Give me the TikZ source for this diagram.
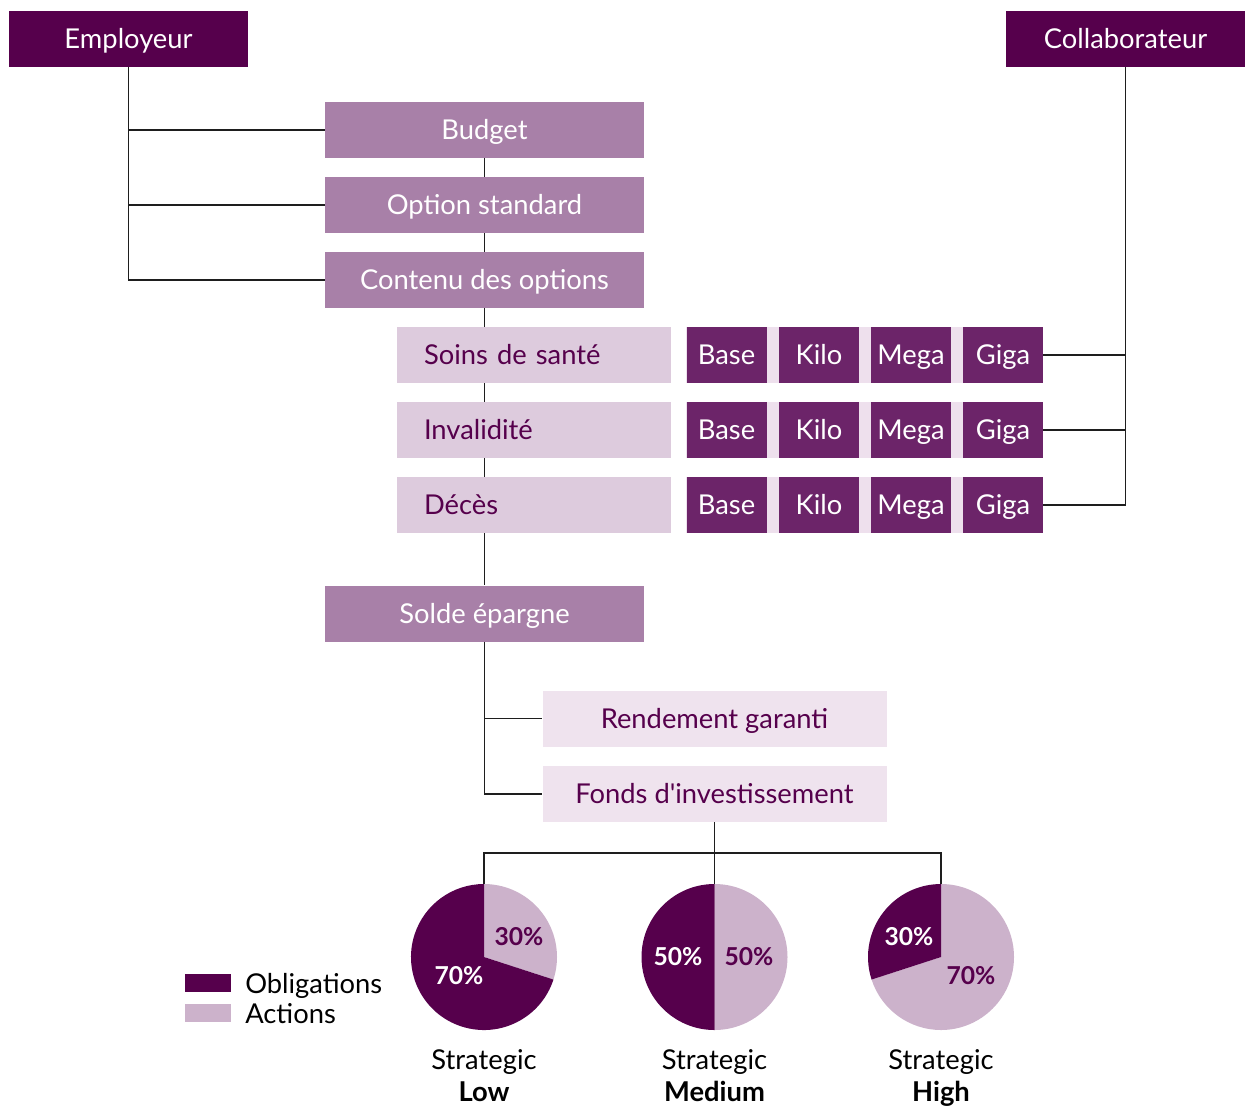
\documentclass[tikz,border=0pt]{standalone}
\usepackage{fontspec}
\setmainfont{Lato}
\usetikzlibrary{backgrounds}
\definecolor{plum}{RGB}{86,0,76}
\definecolor{grape}{RGB}{108,36,105}
\definecolor{mauve}{RGB}{168,128,168}
\definecolor{lilac}{RGB}{221,203,221}
\definecolor{blush}{RGB}{239,227,238}
\definecolor{bandpink}{RGB}{238,224,237}
\definecolor{pielight}{RGB}{204,178,203}
\definecolor{linegray}{RGB}{30,30,30}
\begin{document}
\begin{tikzpicture}[x=0.75pt,y=0.75pt,yscale=-1,xscale=1,
  lbl/.style={font=\fontsize{20.5}{24}\selectfont},
  boxtxt/.style={lbl, text height=16pt, text depth=1.3pt, minimum height=42pt},
  headbox/.style={boxtxt, fill=plum, text=white, minimum width=179.25pt, inner sep=0pt},
  stagebox/.style={boxtxt, fill=mauve, text=white, minimum width=239.25pt, inner sep=0pt},
  coverbox/.style={boxtxt, fill=lilac, text=plum, text width=165pt, inner xsep=20.25pt, inner ysep=0pt, align=left},
  levelbox/.style={boxtxt, fill=grape, text=white, minimum width=60pt, inner sep=0pt},
  returnbox/.style={boxtxt, fill=blush, text=plum, minimum width=258pt, inner sep=0pt},
  pie/.style={circle, minimum size=109.5pt, inner sep=0pt},
  pct/.style={font=\fontsize{18.5}{22}\selectfont\bfseries, text height=13.3pt, text depth=0pt, inner sep=0pt},
  key/.style={minimum width=34.5pt, minimum height=13.5pt, inner sep=0pt},
  caption/.style={font=\fontsize{20.5}{24}\selectfont, align=center, anchor=north, inner sep=0pt},
  link/.style={draw=linegray, line width=0.8pt}]
%set diagram left start at 0, and has height of 1118
\useasboundingbox (0,0) rectangle (1248,1118);

%Shape: Head boxes
\node[headbox] (employeur) at (128.5,39) {Employeur};
\node[headbox] (collab) at (1125.5,39) {Collaborateur};

%Shape: Stage boxes
\node[stagebox] (budget) at (484.5,130) {Budget};
\node[stagebox] (option) at (484.5,205) {Option standard};
\node[stagebox] (contenu) at (484.5,280) {Contenu des options};
\node[stagebox] (solde) at (484.5,613.5) {Solde épargne};

%Shape: Cover rows
\node[coverbox] (soins) at (534,355) {Soins de santé};
\node[coverbox] (inval) at (534,430) {Invalidité};
\node[coverbox] (deces) at (534,505) {Décès};

%Shape: Levels
\node[levelbox] (base1) at (726.5,355) {Base};
\node[levelbox] (kilo1) at (819,355) {Kilo};
\node[levelbox] (mega1) at (911,355) {Mega};
\node[levelbox] (giga1) at (1003,355) {Giga};
\node[levelbox] (base2) at (726.5,430) {Base};
\node[levelbox] (kilo2) at (819,430) {Kilo};
\node[levelbox] (mega2) at (911,430) {Mega};
\node[levelbox] (giga2) at (1003,430) {Giga};
\node[levelbox] (base3) at (726.5,505) {Base};
\node[levelbox] (kilo3) at (819,505) {Kilo};
\node[levelbox] (mega3) at (911,505) {Mega};
\node[levelbox] (giga3) at (1003,505) {Giga};

%Shape: Return boxes
\node[returnbox] (rendement) at (714.5,718.5) {Rendement garanti};
\node[returnbox] (fonds) at (714.5,794) {Fonds d\textquotesingle investissement};

%Shape: Pies
\node[pie] (pieL) at (484,957) {};
\node[pie] (pieM) at (714.5,957) {};
\node[pie] (pieH) at (941,957) {};
\fill[pielight] (pieL.center) -- ++(-90:73) arc[start angle=-90, end angle=18, radius=73] -- cycle;
\fill[plum] (pieL.center) -- ++(18:73) arc[start angle=18, end angle=270, radius=73] -- cycle;
\fill[pielight] (pieM.center) -- ++(-90:73) arc[start angle=-90, end angle=90, radius=73] -- cycle;
\fill[plum] (pieM.center) -- ++(90:73) arc[start angle=90, end angle=270, radius=73] -- cycle;
\fill[pielight] (pieH.center) -- ++(-90:73) arc[start angle=-90, end angle=162, radius=73] -- cycle;
\fill[plum] (pieH.center) -- ++(162:73) arc[start angle=162, end angle=270, radius=73] -- cycle;

% Text Node
\node[pct, text=plum] (lowA) at (519,937) {30\%};
\node[pct, text=white] (lowO) at (459,976) {70\%};
\node[pct, text=white] (medO) at (678,957) {50\%};
\node[pct, text=plum] (medA) at (749,957) {50\%};
\node[pct, text=white] (highO) at (909,937) {30\%};
\node[pct, text=plum] (highA) at (971,976) {70\%};

% Text Node
\node[caption] (capL) at (484,1049) {Strategic\\\textbf{Low}};
\node[caption] (capM) at (714.5,1049) {Strategic\\\textbf{Medium}};
\node[caption] (capH) at (941,1049) {Strategic\\\textbf{High}};

%Shape: Legend
\node[key, fill=plum] (keyO) at (208,983) {};
\node[key, fill=pielight] (keyA) at (208,1013) {};
\node[lbl, anchor=west, inner sep=0pt, text height=16pt, text depth=1.3pt] (keyOtxt) at (245,984) {Obligations};
\node[lbl, anchor=west, inner sep=0pt, text height=16pt, text depth=1.3pt] (keyAtxt) at (245,1014) {Actions};

\begin{pgfonlayer}{background}
\fill[bandpink] (base1.north west) rectangle (giga1.south east);
\fill[bandpink] (base2.north west) rectangle (giga2.south east);
\fill[bandpink] (base3.north west) rectangle (giga3.south east);
\draw[link] (budget) -- (solde);
\end{pgfonlayer}

%Straight Lines
\draw[link] (employeur.south) |- (budget.west);
\draw[link] (employeur.south) |- (option.west);
\draw[link] (employeur.south) |- (contenu.west);
\draw[link] (giga1.east) -| (collab.south);
\draw[link] (giga2.east) -| (collab.south);
\draw[link] (giga3.east) -| (collab.south);
\draw[link] (solde.south) |- (rendement.west);
\draw[link] (solde.south) |- (fonds.west);
\coordinate (fork) at (714.5,853);
\draw[link] (pieL.north) |- (fork) -| (pieH.north);
\draw[link] (fonds.south) -- (pieM.north);

\end{tikzpicture}
\end{document}
